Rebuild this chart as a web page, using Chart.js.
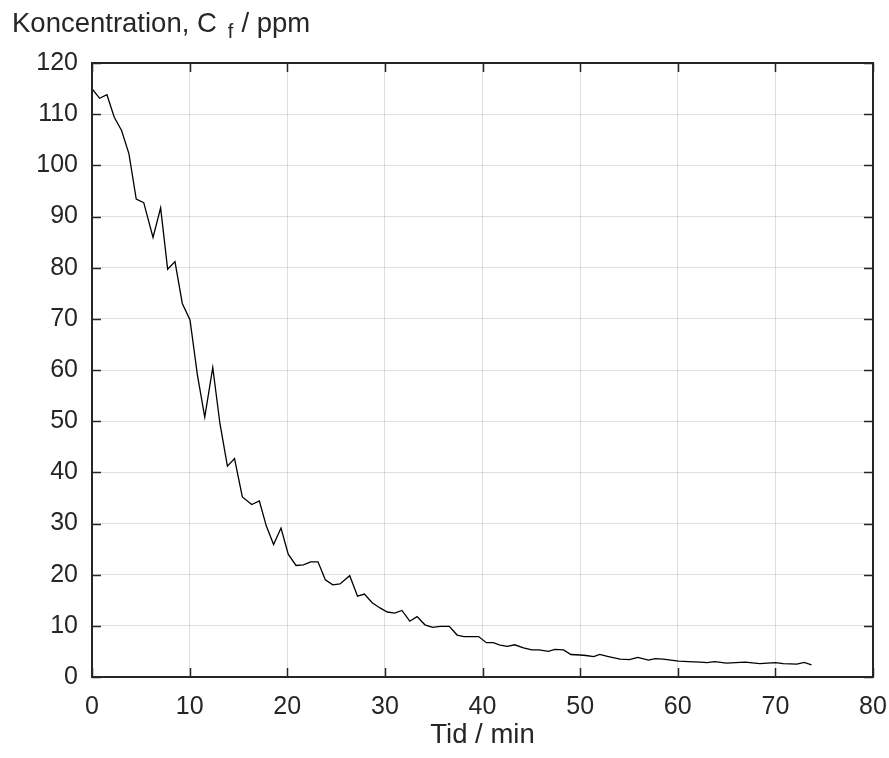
<!DOCTYPE html>
<html>
<head>
<meta charset="utf-8">
<script src="https://cdn.jsdelivr.net/npm/chart.js@4"></script>
<style>
  html, body { margin: 0; padding: 0; background: #fff; }
  #wrap { width: 889px; height: 758px; }
</style>
</head>
<body>
<div id="wrap"><canvas id="concChart" width="889" height="758"></canvas></div>
<script>
// tid (min) och koncentration (ppm)
const tid = [0, 0.78, 1.53, 2.28, 3.03, 3.78, 4.53, 5.3, 6.25, 7.03,
    7.75, 8.5, 9.25, 10.04, 10.8, 11.55, 12.37, 13.1, 13.87, 14.6,
    15.4, 16.36, 17.14, 17.86, 18.6, 19.36, 20.1, 20.9, 21.65, 22.4,
    23.15, 23.9, 24.66, 25.4, 26.4, 27.2, 27.9, 28.7, 29.5, 30.25,
    31.0, 31.75, 32.55, 33.3, 34.1, 34.9, 35.66, 36.6, 37.4, 38.1,
    38.85, 39.6, 40.4, 41.1, 41.8, 42.55, 43.3, 44.2, 45.05, 45.8,
    46.75, 47.4, 48.3, 49.05, 50.0, 50.6, 51.4, 52.0, 52.9, 54.1,
    55.05, 55.9, 57.0, 57.7, 58.5, 60.1, 61.1, 62.3, 63.0, 63.8,
    65.0, 66.9, 68.4, 70.0, 70.8, 72.2, 72.95, 73.7];

const koncentration = [115.0, 113.1, 113.8, 109.4, 106.8, 102.3, 93.4, 92.7, 85.9, 91.7,
    79.7, 81.2, 73.0, 69.8, 59.0, 50.8, 60.5, 49.6, 41.2, 42.7,
    35.2, 33.7, 34.4, 29.5, 25.9, 29.1, 24.0, 21.8, 21.9, 22.5,
    22.5, 19.0, 18.0, 18.2, 19.8, 15.8, 16.2, 14.5, 13.5, 12.7,
    12.5, 13.0, 10.9, 11.8, 10.2, 9.7, 9.9, 9.9, 8.2, 7.9,
    7.9, 7.9, 6.7, 6.7, 6.25, 6.0, 6.3, 5.7, 5.3, 5.3,
    5.0, 5.4, 5.3, 4.4, 4.3, 4.2, 4.0, 4.4, 4.0, 3.5,
    3.4, 3.85, 3.3, 3.6, 3.5, 3.1, 3.0, 2.9, 2.8, 3.0,
    2.7, 2.9, 2.6, 2.8, 2.6, 2.5, 2.85, 2.35];

const xTicks = [0, 10, 20, 30, 40, 50, 60, 70, 80];
const yTicks = [0, 10, 20, 30, 40, 50, 60, 70, 80, 90, 100, 110, 120];

const AXIS_COLOR = '#262626';
const FONT = '"Liberation Sans", Arial, Helvetica, sans-serif';

// ram, ticks inåt och axeltitlar (MATLAB-stil)
const boxPlugin = {
    id: 'matlabBox',
    afterDraw(chart) {
        const { ctx, chartArea: a, scales } = chart;
        ctx.save();
        ctx.strokeStyle = AXIS_COLOR;
        ctx.lineWidth = 1.5;
        ctx.beginPath();
        xTicks.forEach(v => {
            const x = Math.round(scales.x.getPixelForValue(v)) + 0.5;
            ctx.moveTo(x, a.bottom); ctx.lineTo(x, a.bottom - 9);
            ctx.moveTo(x, a.top); ctx.lineTo(x, a.top + 9);
        });
        yTicks.forEach(v => {
            const y = Math.round(scales.y.getPixelForValue(v)) + 0.5;
            ctx.moveTo(a.left, y); ctx.lineTo(a.left + 9, y);
            ctx.moveTo(a.right, y); ctx.lineTo(a.right - 9, y);
        });
        ctx.stroke();

        ctx.lineWidth = 2;
        ctx.strokeRect(a.left, a.top, a.right - a.left, a.bottom - a.top);

        // x-titel
        ctx.fillStyle = AXIS_COLOR;
        ctx.font = '27.5px ' + FONT;
        ctx.textAlign = 'center';
        ctx.textBaseline = 'alphabetic';
        ctx.fillText('Tid / min', (a.left + a.right) / 2, 743);

        // y-titel med index f
        ctx.textAlign = 'left';
        let x = 12;
        const base = 32;
        const p1 = 'Koncentration, C';
        ctx.fillText(p1, x, base);
        x += ctx.measureText(p1).width + 11;
        ctx.font = '20px ' + FONT;
        ctx.fillText('f', x, base + 6);
        x += ctx.measureText('f').width + 8;
        ctx.font = '27.5px ' + FONT;
        ctx.fillText('/ ppm', x, base);
        ctx.restore();
    }
};

new Chart(document.getElementById('concChart'), {
    type: 'line',
    data: {
        datasets: [{
            label: 'Cf',
            data: tid.map((t, i) => ({ x: t, y: koncentration[i] })),
            borderColor: '#000000',
            borderWidth: 1.3,
            pointRadius: 0,
            tension: 0,
            fill: false
        }]
    },
    options: {
        responsive: false,
        animation: false,
        layout: { padding: { top: 63, right: 16, left: 0, bottom: 0 } },
        plugins: {
            legend: { display: false },
            tooltip: { enabled: false }
        },
        scales: {
            x: {
                type: 'linear',
                min: 0, max: 80,
                afterFit: s => { s.height = 81; s.paddingLeft = 0; s.paddingRight = 0; },
                afterBuildTicks: s => { s.ticks = xTicks.map(v => ({ value: v })); },
                grid: { color: 'rgba(38,38,38,0.15)', lineWidth: 1, drawTicks: false },
                border: { display: false },
                ticks: { color: AXIS_COLOR, font: { family: FONT, size: 25 }, padding: 15, maxRotation: 0 }
            },
            y: {
                type: 'linear',
                min: 0, max: 120,
                afterFit: s => { s.width = 92; s.paddingTop = 0; s.paddingBottom = 0; },
                afterBuildTicks: s => { s.ticks = yTicks.map(v => ({ value: v })); },
                grid: { color: 'rgba(38,38,38,0.15)', lineWidth: 1, drawTicks: false },
                border: { display: false },
                ticks: { color: AXIS_COLOR, font: { family: FONT, size: 25 }, padding: 14 }
            }
        }
    },
    plugins: [boxPlugin]
});
</script>
</body>
</html>
